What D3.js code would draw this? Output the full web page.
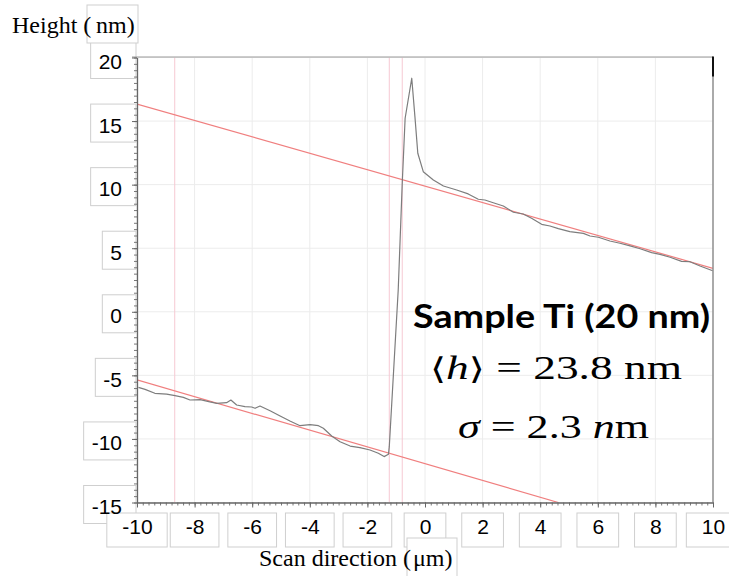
<!DOCTYPE html>
<html>
<head>
<meta charset="utf-8">
<script src="https://cdn.jsdelivr.net/npm/d3@7"></script>
<style>
  html, body { margin: 0; padding: 0; background: #fff; }
  svg { display: block; }
</style>
</head>
<body>
<svg id="chart"></svg>
<script>
// AFM height profile
const xTicks = [-10, -8, -6, -4, -2, 0, 2, 4, 6, 8, 10];
const yTicks = [20, 15, 10, 5, 0, -5, -10, -15];

const profileX = [-9.95, -9.72, -9.38, -8.97, -8.68, -8.39, -8.16, -7.81, -7.47, -7.23,
  -6.89, -6.74, -6.54, -6.25, -6.02, -5.90, -5.73, -5.38, -5.03, -4.69,
  -4.34, -3.99, -3.70, -3.53, -3.24, -2.95, -2.60, -2.26, -1.91, -1.62,
  -1.42, -1.27, -1.24, -0.93, -0.79, -0.69, -0.46, -0.35, -0.25, -0.06,
  0.29, 0.64, 1.10, 1.50, 1.85, 2.08, 2.37, 2.72, 3.07, 3.41,
  3.70, 4.05, 4.34, 4.63, 5.03, 5.50, 5.73, 6.02, 6.42, 6.77,
  7.12, 7.47, 7.87, 8.16, 8.51, 8.91, 9.20, 9.55, 9.99];
const profileY = [-5.94, -6.10, -6.41, -6.47, -6.60, -6.73, -6.94, -6.91, -7.09, -7.20,
  -7.15, -6.94, -7.33, -7.46, -7.49, -7.59, -7.41, -7.78, -8.20, -8.59,
  -8.96, -8.88, -8.96, -9.16, -9.77, -10.22, -10.56, -10.69, -10.87, -11.13,
  -11.39, -11.21, -10.61, 1.71, 10.11, 15.22, 18.37, 15.35, 12.47, 11.02,
  10.37, 9.89, 9.58, 9.27, 8.85, 8.79, 8.58, 8.32, 7.83, 7.69,
  7.35, 6.88, 6.75, 6.54, 6.30, 6.17, 5.96, 5.86, 5.57, 5.39,
  5.18, 4.96, 4.65, 4.52, 4.29, 3.97, 3.94, 3.60, 3.23];

// levelling lines and cursors
const upperFitX = [-10, 10];
const upperFitY = [16.34, 3.42];
const lowerFitX = [-10, 4.63];
const lowerFitY = [-5.36, -15];
const cursorX = [-8.69, -1.24, -0.79];

const annotationTitle = "Sample Ti (20 nm)";
const meanHeight = "23.8";
const sigmaValue = "2.3";

const width = 729;
const height = 576;

const svg = d3.select("#chart").attr("width", width).attr("height", height);
svg.append("rect").attr("width", width).attr("height", height).attr("fill", "#fff");

const x = d3.scaleLinear().domain([-10, 10]).range([137, 713]);
const y = d3.scaleLinear().domain([-15, 20]).range([502.5, 57.5]);

const boxes = svg.append("g");

// grid
const grid = svg.append("g");
grid.selectAll(".gx").data(xTicks).enter().append("line")
  .attr("x1", d => x(d)).attr("x2", d => x(d))
  .attr("y1", y(20)).attr("y2", y(-15))
  .attr("stroke", "#ececec").attr("stroke-width", 1);
grid.selectAll(".gy").data(yTicks).enter().append("line")
  .attr("x1", x(-10)).attr("x2", x(10))
  .attr("y1", d => y(d)).attr("y2", d => y(d))
  .attr("stroke", "#ececec").attr("stroke-width", 1);

svg.append("clipPath").attr("id", "plot-clip").append("rect")
  .attr("x", x(-10)).attr("y", y(20))
  .attr("width", x(10) - x(-10)).attr("height", y(-15) - y(20));

const plot = svg.append("g").attr("clip-path", "url(#plot-clip)");

// cursors
plot.selectAll(".cursor").data(cursorX).enter().append("line")
  .attr("x1", d => x(d)).attr("x2", d => x(d))
  .attr("y1", y(20)).attr("y2", y(-15))
  .attr("stroke", "#f6c9d3").attr("stroke-width", 1);

const line = d3.line().x(d => x(d[0])).y(d => y(d[1]));

plot.append("path")
  .datum(d3.zip(upperFitX, upperFitY))
  .attr("d", line).attr("fill", "none")
  .attr("stroke", "#f07f7f").attr("stroke-width", 1.2);
plot.append("path")
  .datum(d3.zip(lowerFitX, lowerFitY))
  .attr("d", line).attr("fill", "none")
  .attr("stroke", "#f07f7f").attr("stroke-width", 1.2);

plot.append("path")
  .datum(d3.zip(profileX, profileY))
  .attr("d", line).attr("fill", "none")
  .attr("stroke", "#7d7d7d").attr("stroke-width", 1.2)
  .attr("stroke-linejoin", "round");

// frame: top and right edges
svg.append("line").attr("x1", 132).attr("x2", x(10))
  .attr("y1", y(20) - 0.5).attr("y2", y(20) - 0.5)
  .attr("stroke", "#9a9a9a").attr("stroke-width", 1.2);
svg.append("line").attr("x1", x(10)).attr("x2", x(10))
  .attr("y1", y(20)).attr("y2", y(-15))
  .attr("stroke", "#8a8a8a").attr("stroke-width", 1.4);
svg.append("line").attr("x1", x(10)).attr("x2", x(10))
  .attr("y1", y(20) - 1).attr("y2", y(18.5))
  .attr("stroke", "#111").attr("stroke-width", 2);

// axes: minor ticks then major ticks with labels
svg.append("g").attr("transform", `translate(${x(-10)},0)`)
  .call(d3.axisLeft(y).tickValues(d3.range(-15, 20.001, 0.5)).tickSize(3).tickFormat(""))
  .call(g => g.select(".domain").remove())
  .selectAll("line").attr("stroke", "#777");
svg.append("g").attr("transform", `translate(0,${y(-15)})`)
  .call(d3.axisBottom(x).tickValues(d3.range(-10, 10.001, 0.2)).tickSize(3).tickFormat(""))
  .call(g => g.select(".domain").remove())
  .selectAll("line").attr("stroke", "#777");

const plain = d => String(d);
const yAxis = svg.append("g").attr("transform", `translate(${x(-10)},0)`)
  .call(d3.axisLeft(y).tickValues(yTicks).tickFormat(plain).tickSize(5).tickPadding(10).tickSizeOuter(0));
const xAxis = svg.append("g").attr("transform", `translate(0,${y(-15)})`)
  .call(d3.axisBottom(x).tickValues(xTicks).tickFormat(plain).tickSize(5).tickPadding(12).tickSizeOuter(0));

[yAxis, xAxis].forEach(ax => {
  ax.select(".domain").attr("stroke", "#666").attr("stroke-width", 1.3);
  ax.selectAll(".tick line").attr("stroke", "#666");
  ax.selectAll("text")
    .attr("fill", "#000")
    .style("font-family", "'Liberation Sans', Arial, sans-serif")
    .style("font-size", "21px");
});
yAxis.selectAll("text").attr("dy", "0.62em").attr("y", 0).attr("transform", "translate(0,-2)");

// boxes behind tick labels
yAxis.selectAll(".tick").each(function(d) {
  const w = this.querySelector("text").getComputedTextLength();
  boxes.append("rect")
    .attr("x", x(-10) - 15 - w - 8).attr("y", y(d) - 17)
    .attr("width", w + 22).attr("height", 38)
    .attr("fill", "#fff").attr("stroke", "#cfcfcf").attr("stroke-width", 1);
});
xAxis.selectAll(".tick").each(function(d) {
  const w = this.querySelector("text").getComputedTextLength();
  boxes.append("rect")
    .attr("x", x(d) - w / 2 - 15).attr("y", 513)
    .attr("width", w + 30).attr("height", 34)
    .attr("fill", "#fff").attr("stroke", "#cfcfcf").attr("stroke-width", 1);
});

// axis titles
const serif = "'Liberation Serif', 'Times New Roman', serif";
boxes.append("rect").attr("x", 87).attr("y", 5).attr("width", 51).attr("height", 38)
  .attr("fill", "#fff").attr("stroke", "#cfcfcf");
svg.append("text").attr("x", 12).attr("y", 33)
  .style("font-family", serif).style("font-size", "24px")
  .text("Height (");
svg.append("text").attr("x", 96).attr("y", 33)
  .style("font-family", serif).style("font-size", "24px")
  .text("nm)");

boxes.append("rect").attr("x", 407).attr("y", 538).attr("width", 50).attr("height", 40)
  .attr("fill", "#fff").attr("stroke", "#cfcfcf");
svg.append("text").attr("x", 259).attr("y", 566)
  .style("font-family", serif).style("font-size", "24px")
  .text("Scan direction (");
svg.append("text").attr("x", 413).attr("y", 566)
  .style("font-family", serif).style("font-size", "24px")
  .text("\u03BCm)");

// annotation
svg.append("text").attr("x", 413).attr("y", 328)
  .attr("textLength", 297).attr("lengthAdjust", "spacingAndGlyphs")
  .style("font-family", "Lato, 'Open Sans', sans-serif")
  .style("font-weight", 700).style("font-size", "33px")
  .text(annotationTitle);

const hLine = svg.append("text").attr("x", 430).attr("y", 379)
  .attr("textLength", 252).attr("lengthAdjust", "spacingAndGlyphs")
  .style("font-family", serif).style("font-size", "33px");
hLine.append("tspan").style("font-family", "'DejaVu Serif', serif").style("font-size", "30px").text("\u27E8");
hLine.append("tspan").style("font-style", "italic").text("h");
hLine.append("tspan").style("font-family", "'DejaVu Serif', serif").style("font-size", "30px").text("\u27E9");
hLine.append("tspan").text(" = " + meanHeight + " nm");

const sLine = svg.append("text").attr("x", 458).attr("y", 438)
  .attr("textLength", 191).attr("lengthAdjust", "spacingAndGlyphs")
  .style("font-family", serif).style("font-size", "33px");
sLine.append("tspan").style("font-style", "italic").text("\u03C3");
sLine.append("tspan").text(" = " + sigmaValue + " ");
sLine.append("tspan").style("font-style", "italic").text("n");
sLine.append("tspan").text("m");
</script>
</body>
</html>
